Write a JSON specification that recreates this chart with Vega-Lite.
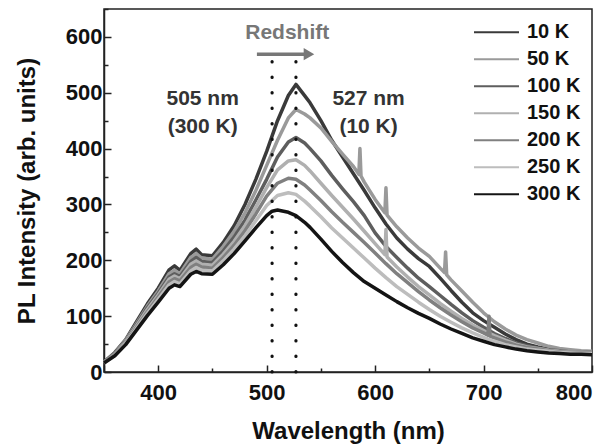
{
"$schema":"https://vega.github.io/schema/vega-lite/v6.json",
"width":488,"height":363,
"autosize":{"type":"none"},
"padding":{"left":104,"top":9,"right":21,"bottom":73},
"background":"white",
"config":{"view":{"stroke":"#222","strokeWidth":1.5},"font":"Liberation Sans",
"axis":{"labelFont":"Liberation Sans","labelFontWeight":"bold","labelFontSize":22,"labelColor":"#111","titleFont":"Liberation Sans","titleFontWeight":"bold","titleFontSize":24,"titleColor":"#111","domainColor":"#222","domainWidth":1.5,"tickColor":"#222","tickWidth":1.5,"grid":false}},
"layer":[
{"layer":[
{"data":{"values":[
{"s":"10 K","x":350,"y":18},{"s":"10 K","x":360,"y":35},{"s":"10 K","x":370,"y":58},{"s":"10 K","x":380,"y":90},{"s":"10 K","x":390,"y":122},{"s":"10 K","x":400,"y":150},{"s":"10 K","x":410,"y":183},{"s":"10 K","x":415,"y":190},{"s":"10 K","x":420,"y":182},{"s":"10 K","x":430,"y":212},{"s":"10 K","x":435,"y":220},{"s":"10 K","x":440,"y":210},{"s":"10 K","x":450,"y":208},{"s":"10 K","x":460,"y":232},{"s":"10 K","x":470,"y":262},{"s":"10 K","x":480,"y":300},{"s":"10 K","x":490,"y":345},{"s":"10 K","x":500,"y":395},{"s":"10 K","x":510,"y":450},{"s":"10 K","x":520,"y":495},{"s":"10 K","x":527,"y":515},{"s":"10 K","x":535,"y":495},{"s":"10 K","x":540,"y":482},{"s":"10 K","x":550,"y":450},{"s":"10 K","x":560,"y":415},{"s":"10 K","x":570,"y":385},{"s":"10 K","x":580,"y":355},{"s":"10 K","x":590,"y":325},{"s":"10 K","x":600,"y":294},{"s":"10 K","x":610,"y":265},{"s":"10 K","x":620,"y":240},{"s":"10 K","x":630,"y":220},{"s":"10 K","x":640,"y":203},{"s":"10 K","x":650,"y":189},{"s":"10 K","x":660,"y":168},{"s":"10 K","x":670,"y":146},{"s":"10 K","x":680,"y":125},{"s":"10 K","x":690,"y":106},{"s":"10 K","x":700,"y":92},{"s":"10 K","x":710,"y":80},{"s":"10 K","x":720,"y":68},{"s":"10 K","x":730,"y":58},{"s":"10 K","x":740,"y":50},{"s":"10 K","x":750,"y":45},{"s":"10 K","x":760,"y":41},{"s":"10 K","x":770,"y":38},{"s":"10 K","x":780,"y":37},{"s":"10 K","x":790,"y":36},{"s":"10 K","x":800,"y":35},
{"s":"50 K","x":350,"y":18},{"s":"50 K","x":360,"y":34},{"s":"50 K","x":370,"y":57},{"s":"50 K","x":380,"y":87},{"s":"50 K","x":390,"y":118},{"s":"50 K","x":400,"y":145},{"s":"50 K","x":410,"y":176},{"s":"50 K","x":415,"y":182},{"s":"50 K","x":420,"y":176},{"s":"50 K","x":430,"y":205},{"s":"50 K","x":435,"y":212},{"s":"50 K","x":440,"y":204},{"s":"50 K","x":450,"y":202},{"s":"50 K","x":460,"y":225},{"s":"50 K","x":470,"y":252},{"s":"50 K","x":480,"y":285},{"s":"50 K","x":490,"y":325},{"s":"50 K","x":500,"y":370},{"s":"50 K","x":510,"y":415},{"s":"50 K","x":520,"y":455},{"s":"50 K","x":527,"y":470},{"s":"50 K","x":535,"y":462},{"s":"50 K","x":540,"y":455},{"s":"50 K","x":550,"y":437},{"s":"50 K","x":560,"y":413},{"s":"50 K","x":570,"y":390},{"s":"50 K","x":580,"y":368},{"s":"50 K","x":585,"y":354},{"s":"50 K","x":586,"y":400},{"s":"50 K","x":587,"y":351},{"s":"50 K","x":590,"y":340},{"s":"50 K","x":600,"y":309},{"s":"50 K","x":609,"y":285},{"s":"50 K","x":610,"y":330},{"s":"50 K","x":611,"y":281},{"s":"50 K","x":620,"y":260},{"s":"50 K","x":630,"y":240},{"s":"50 K","x":640,"y":222},{"s":"50 K","x":650,"y":207},{"s":"50 K","x":660,"y":186},{"s":"50 K","x":664,"y":178},{"s":"50 K","x":665,"y":215},{"s":"50 K","x":666,"y":174},{"s":"50 K","x":670,"y":165},{"s":"50 K","x":680,"y":145},{"s":"50 K","x":690,"y":125},{"s":"50 K","x":700,"y":106},{"s":"50 K","x":710,"y":90},{"s":"50 K","x":720,"y":77},{"s":"50 K","x":730,"y":66},{"s":"50 K","x":740,"y":58},{"s":"50 K","x":750,"y":52},{"s":"50 K","x":760,"y":46},{"s":"50 K","x":770,"y":42},{"s":"50 K","x":780,"y":40},{"s":"50 K","x":790,"y":38},{"s":"50 K","x":800,"y":37},
{"s":"100 K","x":350,"y":18},{"s":"100 K","x":360,"y":33},{"s":"100 K","x":370,"y":55},{"s":"100 K","x":380,"y":85},{"s":"100 K","x":390,"y":115},{"s":"100 K","x":400,"y":141},{"s":"100 K","x":410,"y":170},{"s":"100 K","x":415,"y":176},{"s":"100 K","x":420,"y":171},{"s":"100 K","x":430,"y":198},{"s":"100 K","x":435,"y":205},{"s":"100 K","x":440,"y":198},{"s":"100 K","x":450,"y":196},{"s":"100 K","x":460,"y":217},{"s":"100 K","x":470,"y":242},{"s":"100 K","x":480,"y":272},{"s":"100 K","x":490,"y":308},{"s":"100 K","x":500,"y":345},{"s":"100 K","x":510,"y":385},{"s":"100 K","x":520,"y":412},{"s":"100 K","x":527,"y":420},{"s":"100 K","x":535,"y":410},{"s":"100 K","x":540,"y":400},{"s":"100 K","x":550,"y":378},{"s":"100 K","x":560,"y":352},{"s":"100 K","x":570,"y":328},{"s":"100 K","x":580,"y":305},{"s":"100 K","x":590,"y":280},{"s":"100 K","x":600,"y":249},{"s":"100 K","x":610,"y":225},{"s":"100 K","x":620,"y":205},{"s":"100 K","x":630,"y":186},{"s":"100 K","x":640,"y":168},{"s":"100 K","x":650,"y":153},{"s":"100 K","x":660,"y":137},{"s":"100 K","x":670,"y":121},{"s":"100 K","x":680,"y":106},{"s":"100 K","x":690,"y":92},{"s":"100 K","x":700,"y":80},{"s":"100 K","x":710,"y":69},{"s":"100 K","x":720,"y":60},{"s":"100 K","x":730,"y":52},{"s":"100 K","x":740,"y":47},{"s":"100 K","x":750,"y":43},{"s":"100 K","x":760,"y":40},{"s":"100 K","x":770,"y":38},{"s":"100 K","x":780,"y":36},{"s":"100 K","x":790,"y":35},{"s":"100 K","x":800,"y":35},
{"s":"150 K","x":350,"y":17},{"s":"150 K","x":360,"y":32},{"s":"150 K","x":370,"y":54},{"s":"150 K","x":380,"y":83},{"s":"150 K","x":390,"y":112},{"s":"150 K","x":400,"y":138},{"s":"150 K","x":410,"y":166},{"s":"150 K","x":415,"y":172},{"s":"150 K","x":420,"y":167},{"s":"150 K","x":430,"y":193},{"s":"150 K","x":435,"y":199},{"s":"150 K","x":440,"y":193},{"s":"150 K","x":450,"y":191},{"s":"150 K","x":460,"y":211},{"s":"150 K","x":470,"y":234},{"s":"150 K","x":480,"y":262},{"s":"150 K","x":490,"y":295},{"s":"150 K","x":500,"y":330},{"s":"150 K","x":510,"y":362},{"s":"150 K","x":520,"y":378},{"s":"150 K","x":527,"y":380},{"s":"150 K","x":535,"y":370},{"s":"150 K","x":540,"y":360},{"s":"150 K","x":550,"y":338},{"s":"150 K","x":560,"y":316},{"s":"150 K","x":570,"y":295},{"s":"150 K","x":580,"y":274},{"s":"150 K","x":590,"y":252},{"s":"150 K","x":600,"y":230},{"s":"150 K","x":609,"y":210},{"s":"150 K","x":610,"y":255},{"s":"150 K","x":611,"y":206},{"s":"150 K","x":620,"y":188},{"s":"150 K","x":630,"y":170},{"s":"150 K","x":640,"y":153},{"s":"150 K","x":650,"y":138},{"s":"150 K","x":660,"y":123},{"s":"150 K","x":670,"y":109},{"s":"150 K","x":680,"y":96},{"s":"150 K","x":690,"y":84},{"s":"150 K","x":700,"y":74},{"s":"150 K","x":710,"y":65},{"s":"150 K","x":720,"y":57},{"s":"150 K","x":730,"y":50},{"s":"150 K","x":740,"y":45},{"s":"150 K","x":750,"y":42},{"s":"150 K","x":760,"y":39},{"s":"150 K","x":770,"y":37},{"s":"150 K","x":780,"y":36},{"s":"150 K","x":790,"y":35},{"s":"150 K","x":800,"y":34},
{"s":"200 K","x":350,"y":17},{"s":"200 K","x":360,"y":31},{"s":"200 K","x":370,"y":52},{"s":"200 K","x":380,"y":80},{"s":"200 K","x":390,"y":108},{"s":"200 K","x":400,"y":134},{"s":"200 K","x":410,"y":161},{"s":"200 K","x":415,"y":167},{"s":"200 K","x":420,"y":163},{"s":"200 K","x":430,"y":187},{"s":"200 K","x":435,"y":193},{"s":"200 K","x":440,"y":188},{"s":"200 K","x":450,"y":186},{"s":"200 K","x":460,"y":205},{"s":"200 K","x":470,"y":227},{"s":"200 K","x":480,"y":253},{"s":"200 K","x":490,"y":283},{"s":"200 K","x":500,"y":315},{"s":"200 K","x":510,"y":338},{"s":"200 K","x":520,"y":347},{"s":"200 K","x":527,"y":345},{"s":"200 K","x":535,"y":335},{"s":"200 K","x":540,"y":326},{"s":"200 K","x":550,"y":307},{"s":"200 K","x":560,"y":287},{"s":"200 K","x":570,"y":268},{"s":"200 K","x":580,"y":250},{"s":"200 K","x":590,"y":232},{"s":"200 K","x":600,"y":213},{"s":"200 K","x":610,"y":194},{"s":"200 K","x":620,"y":176},{"s":"200 K","x":630,"y":160},{"s":"200 K","x":640,"y":144},{"s":"200 K","x":650,"y":129},{"s":"200 K","x":660,"y":115},{"s":"200 K","x":670,"y":102},{"s":"200 K","x":680,"y":90},{"s":"200 K","x":690,"y":79},{"s":"200 K","x":700,"y":70},{"s":"200 K","x":704,"y":66},{"s":"200 K","x":705,"y":100},{"s":"200 K","x":706,"y":64},{"s":"200 K","x":710,"y":61},{"s":"200 K","x":720,"y":54},{"s":"200 K","x":730,"y":48},{"s":"200 K","x":740,"y":44},{"s":"200 K","x":750,"y":41},{"s":"200 K","x":760,"y":38},{"s":"200 K","x":770,"y":36},{"s":"200 K","x":780,"y":35},{"s":"200 K","x":790,"y":34},{"s":"200 K","x":800,"y":34},
{"s":"250 K","x":350,"y":16},{"s":"250 K","x":360,"y":30},{"s":"250 K","x":370,"y":51},{"s":"250 K","x":380,"y":78},{"s":"250 K","x":390,"y":105},{"s":"250 K","x":400,"y":130},{"s":"250 K","x":410,"y":156},{"s":"250 K","x":415,"y":162},{"s":"250 K","x":420,"y":158},{"s":"250 K","x":430,"y":181},{"s":"250 K","x":435,"y":187},{"s":"250 K","x":440,"y":182},{"s":"250 K","x":450,"y":181},{"s":"250 K","x":460,"y":199},{"s":"250 K","x":470,"y":220},{"s":"250 K","x":480,"y":244},{"s":"250 K","x":490,"y":271},{"s":"250 K","x":500,"y":298},{"s":"250 K","x":510,"y":316},{"s":"250 K","x":520,"y":321},{"s":"250 K","x":527,"y":318},{"s":"250 K","x":535,"y":306},{"s":"250 K","x":540,"y":297},{"s":"250 K","x":550,"y":278},{"s":"250 K","x":560,"y":258},{"s":"250 K","x":570,"y":240},{"s":"250 K","x":580,"y":222},{"s":"250 K","x":590,"y":204},{"s":"250 K","x":600,"y":186},{"s":"250 K","x":610,"y":169},{"s":"250 K","x":620,"y":153},{"s":"250 K","x":630,"y":139},{"s":"250 K","x":640,"y":125},{"s":"250 K","x":650,"y":112},{"s":"250 K","x":660,"y":100},{"s":"250 K","x":670,"y":89},{"s":"250 K","x":680,"y":79},{"s":"250 K","x":690,"y":70},{"s":"250 K","x":700,"y":62},{"s":"250 K","x":710,"y":55},{"s":"250 K","x":720,"y":49},{"s":"250 K","x":730,"y":45},{"s":"250 K","x":740,"y":41},{"s":"250 K","x":750,"y":39},{"s":"250 K","x":760,"y":37},{"s":"250 K","x":770,"y":35},{"s":"250 K","x":780,"y":34},{"s":"250 K","x":790,"y":33},{"s":"250 K","x":800,"y":33},
{"s":"300 K","x":350,"y":16},{"s":"300 K","x":360,"y":29},{"s":"300 K","x":370,"y":49},{"s":"300 K","x":380,"y":75},{"s":"300 K","x":390,"y":101},{"s":"300 K","x":400,"y":125},{"s":"300 K","x":410,"y":150},{"s":"300 K","x":415,"y":156},{"s":"300 K","x":420,"y":153},{"s":"300 K","x":430,"y":175},{"s":"300 K","x":435,"y":180},{"s":"300 K","x":440,"y":176},{"s":"300 K","x":450,"y":175},{"s":"300 K","x":460,"y":192},{"s":"300 K","x":470,"y":212},{"s":"300 K","x":480,"y":235},{"s":"300 K","x":490,"y":258},{"s":"300 K","x":500,"y":280},{"s":"300 K","x":505,"y":288},{"s":"300 K","x":510,"y":290},{"s":"300 K","x":520,"y":286},{"s":"300 K","x":527,"y":280},{"s":"300 K","x":535,"y":268},{"s":"300 K","x":540,"y":259},{"s":"300 K","x":550,"y":238},{"s":"300 K","x":560,"y":216},{"s":"300 K","x":570,"y":196},{"s":"300 K","x":580,"y":178},{"s":"300 K","x":590,"y":162},{"s":"300 K","x":600,"y":150},{"s":"300 K","x":610,"y":138},{"s":"300 K","x":620,"y":126},{"s":"300 K","x":630,"y":115},{"s":"300 K","x":640,"y":105},{"s":"300 K","x":650,"y":96},{"s":"300 K","x":660,"y":86},{"s":"300 K","x":670,"y":77},{"s":"300 K","x":680,"y":69},{"s":"300 K","x":690,"y":61},{"s":"300 K","x":700,"y":55},{"s":"300 K","x":710,"y":49},{"s":"300 K","x":720,"y":45},{"s":"300 K","x":730,"y":41},{"s":"300 K","x":740,"y":38},{"s":"300 K","x":750,"y":36},{"s":"300 K","x":760,"y":34},{"s":"300 K","x":770,"y":33},{"s":"300 K","x":780,"y":32},{"s":"300 K","x":790,"y":32},{"s":"300 K","x":800,"y":31}
]},
"mark":{"type":"line","strokeWidth":3.5,"strokeJoin":"round"},
"encoding":{
"x":{"field":"x","type":"quantitative","scale":{"domain":[350,800],"nice":false,"zero":false},"axis":{"orient":"bottom","values":[350,400,500,600,700,800],"labelExpr":"datum.value == 350 ? '' : datum.label","title":"Wavelength (nm)","tickSize":-7,"labelPadding":17,"titlePadding":16}},
"y":{"field":"y","type":"quantitative","scale":{"domain":[0,650],"nice":false},"axis":{"orient":"left","values":[0,100,200,300,400,500,600],"title":"PL Intensity (arb. units)","tickSize":-7,"labelPadding":9,"titlePadding":26}},
"color":{"field":"s","type":"nominal","scale":{"domain":["10 K","50 K","100 K","150 K","200 K","250 K","300 K"],"range":["#3a3a3a","#9a9a9a","#5e5e5e","#b0b0b0","#808080","#bdbdbd","#141414"]},
"legend":{"orient":"none","legendX":369,"legendY":10,"title":null,"symbolType":"stroke","symbolSize":2025,"symbolStrokeWidth":2,"labelFont":"Liberation Sans","labelFontSize":20,"labelFontWeight":"bold","labelColor":"#111","rowPadding":0,"clipHeight":26.3,"padding":0,"labelOffset":7}}
}},
{"data":{"values":[{}]},"mark":{"type":"rule","color":"#777","strokeWidth":3.5},
"encoding":{"x":{"datum":491,"type":"quantitative"},"x2":{"datum":536},"y":{"datum":569,"type":"quantitative"}}},
{"data":{"values":[{}]},"mark":{"type":"point","shape":"triangle-right","filled":true,"color":"#777","size":150,"opacity":1},
"encoding":{"x":{"datum":539,"type":"quantitative"},"y":{"datum":569,"type":"quantitative"}}},
{"data":{"values":[{}]},"mark":{"type":"text","text":"Redshift","font":"Liberation Sans","fontWeight":"bold","fontSize":21,"color":"#777","align":"center","baseline":"middle"},
"encoding":{"x":{"datum":519,"type":"quantitative"},"y":{"datum":607,"type":"quantitative"}}},
{"data":{"values":[{}]},"mark":{"type":"text","text":["505 nm","(300 K)"],"font":"Liberation Sans","fontWeight":"bold","fontSize":21,"color":"#333","lineHeight":28,"align":"center","baseline":"middle"},
"encoding":{"x":{"datum":441,"type":"quantitative"},"y":{"datum":489,"type":"quantitative"}}},
{"data":{"values":[{}]},"mark":{"type":"text","text":["527 nm","(10 K)"],"font":"Liberation Sans","fontWeight":"bold","fontSize":21,"color":"#333","lineHeight":28,"align":"center","baseline":"middle"},
"encoding":{"x":{"datum":594,"type":"quantitative"},"y":{"datum":489,"type":"quantitative"}}}
]},
{"data":{"values":[{"x":505},{"x":527}]},
"mark":{"type":"rule","color":"#111","strokeWidth":3.2,"strokeCap":"round","strokeDash":[0.5,15]},
"encoding":{
"x":{"field":"x","type":"quantitative","scale":{"domain":[350,800],"nice":false,"zero":false},"axis":{"orient":"bottom","values":[450,550,650,750],"labels":false,"title":null,"domain":false,"tickSize":-4}},
"y":{"datum":0,"type":"quantitative","scale":{"domain":[0,650],"nice":false},"axis":{"orient":"left","values":[50,150,250,350,450,550,650],"labels":false,"title":null,"domain":false,"tickSize":-4}},
"y2":{"datum":564}
}}
],
"resolve":{"axis":{"x":"independent","y":"independent"}}
}
